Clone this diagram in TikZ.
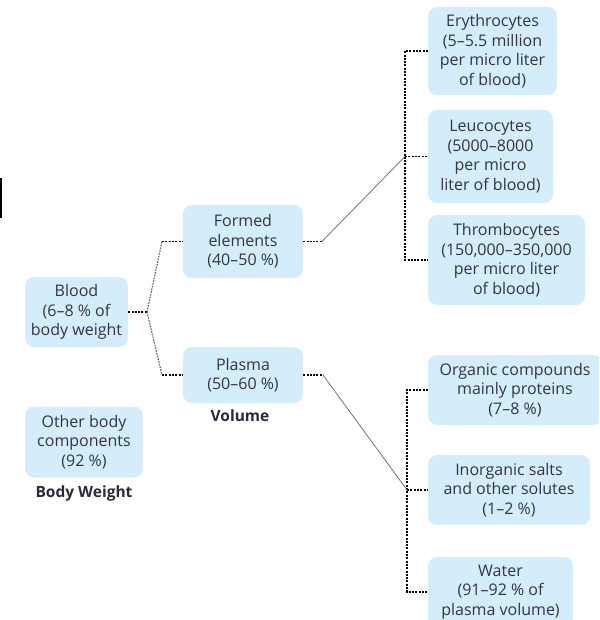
\documentclass[tikz,border=0pt]{standalone}
\usepackage{fontspec}
\setmainfont{Open Sans}
\definecolor{boxblue}{HTML}{D4EDFA}
\definecolor{txt}{HTML}{33334A}
\definecolor{lbltxt}{HTML}{2A2A3A}
\begin{document}
\begin{tikzpicture}[x=1pt,y=-1pt,
  box/.style={fill=boxblue, rounded corners=9pt, align=center, inner sep=0pt,
    font=\fontsize{16}{19.5}\selectfont, text=txt},
  lbl/.style={font=\fontsize{15.5}{18}\selectfont\bfseries, text=lbltxt, inner sep=0pt},
  dots/.style={line width=1.5pt, dash pattern=on 2pt off 1.3pt},
  slantdots/.style={draw=black!65, line width=1.1pt, dash pattern=on 1.6pt off 1.2pt},
  thinline/.style={draw=black!60, line width=0.7pt}]
\useasboundingbox (0,0) rectangle (599,620);
\clip (0,0) rectangle (599,620);
\fill[black] (0,178) rectangle (2.3,218);
% boxes
\node[box, minimum width=103pt, minimum height=70pt] (blood) at (76.5,312) {Blood\\(6–8 \% of\\body weight};
\node[box, minimum width=118pt, minimum height=71pt] (other) at (84,442) {Other body\\components\\(92 \%)};
\node[lbl] (bw) at (84,493) {Body Weight};
\node[box, minimum width=120pt, minimum height=73pt] (formed) at (243,241.5) {Formed\\elements\\(40–50 \%)};
\node[box, minimum width=120pt, minimum height=56pt] (plasma) at (243,375) {Plasma\\(50–60 \%)};
\node[lbl] (vol) at (240,416) {Volume};
\node[box, minimum width=129pt, minimum height=88pt] (ery) at (492.5,51) {Erythrocytes\\(5–5.5 million\\per micro liter\\of blood)};
\node[box, minimum width=125pt, minimum height=93pt] (leu) at (490.5,156.5) {Leucocytes\\(5000–8000\\per micro\\liter of blood)};
\node[box, minimum width=157pt, minimum height=90pt] (thr) at (506.5,260) {Thrombocytes\\(150,000–350,000\\per micro liter\\of blood)};
\node[box, minimum width=174pt, minimum height=70pt] (org) at (515,390) {Organic compounds\\mainly proteins\\(7–8 \%)};
\node[box, minimum width=162pt, minimum height=70pt] (ino) at (509,490) {Inorganic salts\\and other solutes\\(1–2 \%)};
\node[box, minimum width=145pt, minimum height=70pt] (wat) at (500.5,592) {Water\\(91–92 \% of\\plasma volume)};
% junctions
\coordinate (bj) at (147,312);
\coordinate (fj) at (162,241.5);
\coordinate (pj) at (162,375);
\coordinate (fo) at (322,241.5);
\coordinate (po) at (323,375);
\coordinate (t1) at (405,51);
\coordinate (tj) at (405,156.5);
\coordinate (t3) at (405,260);
\coordinate (b1) at (407,390);
\coordinate (bj2) at (407,490);
\coordinate (b3) at (407,592);
% connectors
\draw[dots] (blood.east) -- (bj);
\draw[slantdots] (bj) -- (fj);
\draw[dots] (fj) -- (formed.west);
\draw[slantdots] (bj) -- (pj);
\draw[dots] (pj) -- (plasma.west);
\draw[dots] (formed.east) -- (fo);
\draw[thinline] (fo) -- (tj);
\draw[dots] (ery.west) -- (t1) -- (t3) -- (thr.west);
\draw[dots] (tj) -- (leu.west);
\draw[dots] (plasma.east) -- (po);
\draw[thinline] (po) -- (bj2);
\draw[dots] (org.west) -- (b1) -- (b3) -- (wat.west);
\draw[dots] (bj2) -- (ino.west);
\end{tikzpicture}
\end{document}
